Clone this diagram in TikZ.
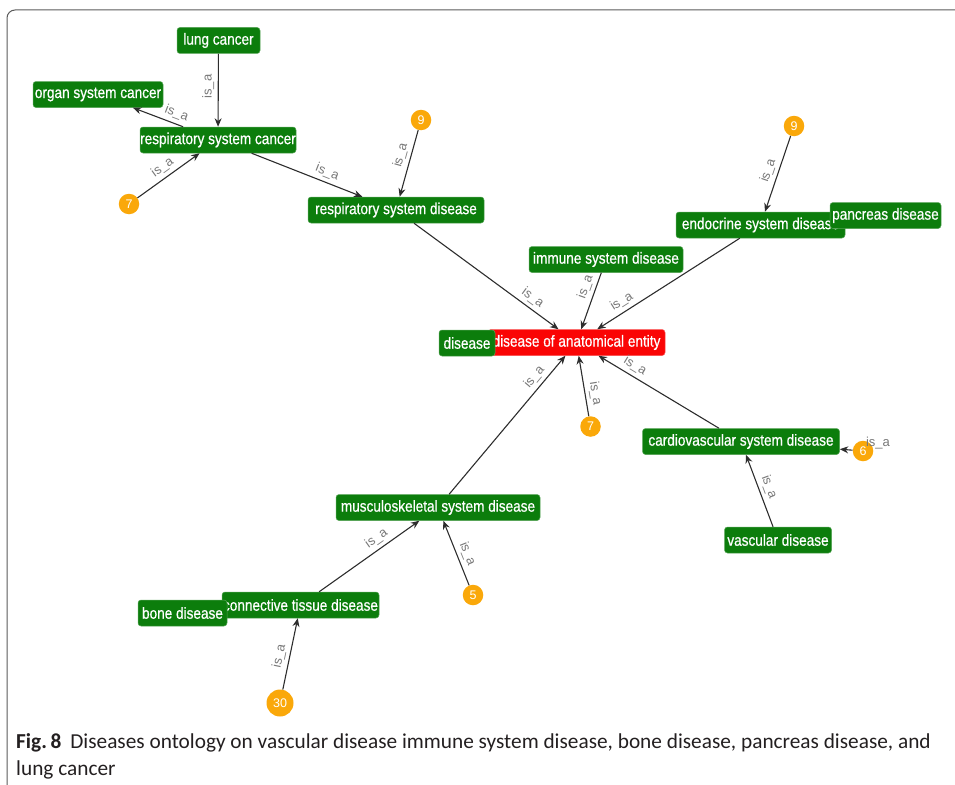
\documentclass[tikz,border=0pt]{standalone}
\usepackage{fontspec}
\usetikzlibrary{arrows.meta,calc}
\newfontfamily\nodefont[FakeStretch=0.85,FakeBold=0.6]{Liberation Sans}
\newfontfamily\lblfont{Liberation Sans}
\newfontfamily\capfont{Carlito}
\definecolor{boxgreen}{RGB}{12,125,12}
\definecolor{boxred}{RGB}{250,5,5}
\definecolor{dotorange}{RGB}{250,168,10}
\definecolor{edgecol}{RGB}{45,45,45}
\definecolor{lblcol}{RGB}{120,120,120}
\definecolor{framecol}{RGB}{90,90,90}
\definecolor{captext}{RGB}{35,31,32}
\newcommand\ctr[1]{\hbox to 0pt{\hss#1\hss}}
\begin{document}
\begin{tikzpicture}[x=1pt,y=-1pt,
  box/.style={rectangle, rounded corners=3pt, fill=boxgreen, draw=boxgreen!70!white, line width=0.5pt,
    text=white, font=\nodefont\fontsize{16}{18}\selectfont, minimum height=26pt, inner sep=0pt, minimum width=#1},
  redbox/.style={box=#1, fill=boxred, draw=boxred!70!white},
  dot/.style={circle, fill=dotorange, draw=none, minimum size=#1, inner sep=0pt, text=white,
    font=\lblfont\fontsize{12.5}{13}\selectfont},
  dot/.default=20.5pt,
  arr/.style={draw=edgecol, line width=1.1pt, -{Stealth[length=8.5pt,width=7pt]}},
  lblplain/.style={text=lblcol, font=\lblfont\fontsize{13}{14}\selectfont, inner sep=1pt},
  lbl/.style={lblplain, sloped, above=2.5pt},
]
\useasboundingbox (0,0) rectangle (955,784);
\draw[framecol, line width=1pt, rounded corners=8pt] (7,10) rectangle (990,820);

% boxes
\node[box=83pt]  (lung)  at (218.5,40.5) {\ctr{lung cancer}};
\node[box=130pt] (organ) at (98,94.5)    {\ctr{organ system cancer}};
\node[box=156pt] (rsc)   at (218,140)    {\ctr{respiratory system cancer}};
\node[box=176pt] (rsd)   at (396,210)    {\ctr{respiratory system disease}};
\node[box=154pt] (imm)   at (606,259.5)  {\ctr{immune system disease}};
\node[box=169pt] (endo)  at (760.5,225)  {\ctr{endocrine system disease}};
\node[box=111pt] (panc)  at (885.5,215.5){\ctr{pancreas disease}};
\node[redbox=177pt] (doae) at (576.5,342.5) {\ctr{disease of anatomical entity}};
\node[box=56pt]  (dis)   at (467,343)    {\ctr{disease}};
\node[box=197pt] (card)  at (741,441.5)  {\ctr{cardiovascular system disease}};
\node[box=107pt] (vasc)  at (778,540)    {\ctr{vascular disease}};
\node[box=204pt] (musc)  at (438,507.5)  {\ctr{musculoskeletal system disease}};
\node[box=157pt] (conn)  at (300.5,605)  {\ctr{connective tissue disease}};
\node[box=89pt]  (bone)  at (182.5,613)  {\ctr{bone disease}};

% count circles
\node[dot] (o7a) at (129,204)   {7};
\node[dot] (o9a) at (421,120)   {9};
\node[dot] (o9b) at (794,126)   {9};
\node[dot] (o7b) at (590.5,426.5) {7};
\node[dot] (o6)  at (863,451)   {6};
\node[dot] (o5)  at (473,595)   {5};
\node[dot=27pt] (o30) at (280,703) {30};

% edges
\draw[arr] (lung) -- node[lbl, pos=.45] {is\_a} (rsc);
\draw[arr] (rsc)  -- node[lbl, pos=.2]  {is\_a} (organ);
\draw[arr] (o7a)  -- node[lbl, pos=.5]  {is\_a} (rsc);
\draw[arr] (rsc)  -- node[lbl, pos=.65] {is\_a} (rsd);
\draw[arr] (o9a)  -- node[lbl, pos=.42] {is\_a} (rsd);
\draw[arr] (rsd)  -- node[lbl, pos=.78] {is\_a} (doae);
\draw[arr] (imm)  -- node[lbl, pos=.31] {is\_a} (doae);
\draw[arr] (endo) -- node[lbl, pos=.79] {is\_a} (doae);
\draw[arr] (o9b)  -- node[lbl, pos=.5]  {is\_a} (endo);
\draw[arr] (musc) -- node[lbl, pos=.8]  {is\_a} (doae);
\draw[arr] (o7b)  -- node[lbl, pos=.35] {is\_a} (doae);
\draw[arr] (card) -- node[lbl, pos=.74] {is\_a} (doae);
\draw[arr] (o6)   -- (card);
\node[lblplain] (l6) at ($(o6)+(15,-8)$) {is\_a};
\draw[arr] (vasc) -- node[lbl, pos=.5]  {is\_a} (card);
\draw[arr] (conn) -- node[lbl, pos=.63] {is\_a} (musc);
\draw[arr] (o5)   -- node[lbl, pos=.43] {is\_a} (musc);
\draw[arr] (o30)  -- node[lbl, pos=.44] {is\_a} (conn);

% caption
\node[anchor=base west, inner sep=0pt, text=captext, font=\capfont\fontsize{21.3}{24}\selectfont] (cap1) at (16,748)
  {\textbf{Fig.\,8}\hspace{9pt}Diseases ontology on vascular disease immune system disease, bone disease, pancreas disease, and};
\node[anchor=base west, inner sep=0pt, text=captext, font=\capfont\fontsize{21.3}{24}\selectfont] (cap2) at (16,775)
  {lung cancer};
\end{tikzpicture}
\end{document}
